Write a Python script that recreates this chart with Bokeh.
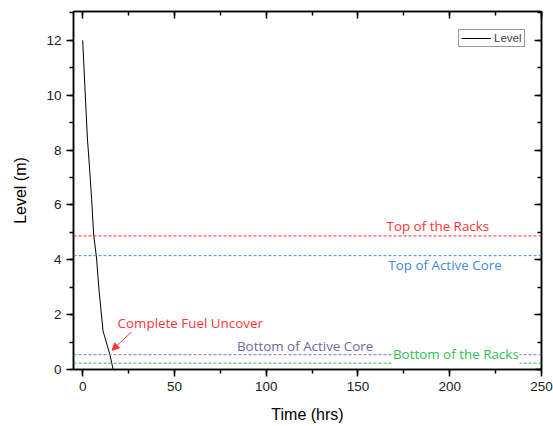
from bokeh.plotting import figure
from bokeh.models import (Range1d, SingleIntervalTicker, LinearAxis, Span, Arrow,
                          NormalHead, Legend, LegendItem, ColumnDataSource, Label)
from bokeh.embed import file_html
from bokeh.resources import INLINE

# Data
time_hrs = [0, 1.5, 2.6, 3.8, 4.9, 6.0, 7.5, 8.9, 11.1, 14.8, 16.6]
level_m = [12.0, 9.9, 8.4, 7.3, 6.2, 4.9, 4.1, 2.9, 1.4, 0.55, 0.0]

ref_names = ["Top of the Racks", "Top of Active Core", "Bottom of Active Core", "Bottom of the Racks"]
ref_levels = [4.87, 4.15, 0.54, 0.23]
ref_colors = ["#ff2b2b", "#4a8fd6", "#8474b0", "#22c24a"]
ref_text_colors = ["#ff3535", "#3f8ad4", "#7565a0", "#2fbf50"]
ref_text_x = [165, 166, 83.5, 168.5]
ref_text_y = [5.24, 3.81, 0.84, 0.55]
ref_text_bg = [None, None, None, "white"]

x_ticks = [0, 50, 100, 150, 200, 250]
y_ticks = [0, 2, 4, 6, 8, 10, 12]

FONT = "Liberation Sans"
AFONT = "Open Sans"
AFS = "13.4px"

p = figure(width=553, height=426, output_backend="svg", toolbar_location=None,
           x_range=Range1d(-5, 250), y_range=Range1d(0, 13.05),
           min_border_left=73, min_border_right=12, min_border_top=11, min_border_bottom=57)
p.xgrid.visible = False
p.ygrid.visible = False
p.outline_line_color = "black"
p.outline_line_width = 1.5
p.background_fill_color = "white"
p.border_fill_color = "white"

def style_axis(ax, ticker, labels=True, inward=False):
    ax.ticker = ticker
    ax.axis_line_width = 1.5
    ax.axis_line_color = "black"
    ax.major_tick_line_width = 1.5
    ax.minor_tick_line_width = 1.5
    if inward:
        ax.major_tick_in = 7
        ax.major_tick_out = 0
        ax.minor_tick_in = 4
        ax.minor_tick_out = 0
    else:
        ax.major_tick_in = 0
        ax.major_tick_out = 7
        ax.minor_tick_in = 0
        ax.minor_tick_out = 4
    if not labels:
        ax.major_label_text_font_size = "0px"
        ax.major_label_text_color = None
    else:
        ax.major_label_text_font = FONT
        ax.major_label_text_font_size = "13.5px"
        ax.major_label_text_color = "#222222"
        ax.axis_label_text_font = FONT
        ax.axis_label_text_font_size = "16px"
        ax.axis_label_text_font_style = "normal"
        ax.axis_label_text_color = "black"

xt = SingleIntervalTicker(interval=50, num_minor_ticks=2)
yt = SingleIntervalTicker(interval=2, num_minor_ticks=2)
style_axis(p.xaxis[0], xt)
style_axis(p.yaxis[0], yt)
p.xaxis[0].axis_label = "Time (hrs)"
p.yaxis[0].axis_label = "Level (m)"
p.xaxis[0].major_label_standoff = 5
p.xaxis[0].axis_label_standoff = 12
p.yaxis[0].major_label_standoff = 5
p.yaxis[0].axis_label_standoff = 14

top_ax = LinearAxis()
style_axis(top_ax, SingleIntervalTicker(interval=50, num_minor_ticks=2), labels=False, inward=True)
p.add_layout(top_ax, "above")
right_ax = LinearAxis()
style_axis(right_ax, SingleIntervalTicker(interval=2, num_minor_ticks=2), labels=False, inward=True)
p.add_layout(right_ax, "right")

# reference lines
for lvl, col in zip(ref_levels, ref_colors):
    p.add_layout(Span(location=lvl, dimension="width", line_color=col,
                      line_width=1, line_dash="3 2"))

for name, tx, ty, tc, bg in zip(ref_names, ref_text_x, ref_text_y, ref_text_colors, ref_text_bg):
    p.add_layout(Label(x=tx, y=ty, text=name, text_color=tc, text_font=AFONT,
                       text_font_size=AFS, text_baseline="middle", text_align="left",
                       background_fill_color=bg, padding=1))

src = ColumnDataSource(dict(t=time_hrs, lv=level_m))
r = p.line("t", "lv", source=src, line_color="black", line_width=1)

# annotation
p.add_layout(Label(x=19, y=1.68, text="Complete Fuel Uncover", text_color="#ff3535",
                   text_font=AFONT, text_font_size=AFS, text_baseline="middle",
                   text_align="left"))
p.add_layout(Arrow(x_start=26.6, y_start=1.37, x_end=16.0, y_end=0.70,
                   line_color="#ff3535", line_width=1,
                   end=NormalHead(size=7, fill_color="#ff3535", line_color="#ff3535")))

legend = Legend(items=[LegendItem(label="Level", renderers=[r])],
                location=(385, 322), margin=0, padding=2, spacing=0,
                label_text_font=FONT, label_text_font_size="11.5px",
                label_standoff=3, glyph_width=30, glyph_height=12, label_height=12,
                border_line_color="#333333", border_line_width=1,
                background_fill_alpha=1)
p.add_layout(legend, "center")

open("out.html", "w").write(file_html(p, INLINE))
